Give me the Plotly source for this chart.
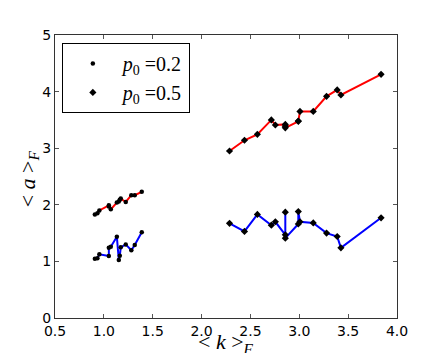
import plotly.graph_objects as go

# Left cluster (p0 = 0.2)
x_left = [0.908, 0.934, 0.954, 1.051, 1.051, 1.071, 1.133, 1.153, 1.163, 1.173, 1.224, 1.281, 1.316, 1.388]
red_left = [1.83, 1.85, 1.90, 1.99, 1.97, 1.92, 2.04, 2.06, 2.09, 2.11, 2.05, 2.17, 2.17, 2.23]
blue_left = [1.048, 1.055, 1.125, 1.095, 1.242, 1.26, 1.436, 1.025, 1.10, 1.249, 1.30, 1.196, 1.29, 1.514]

# Right cluster (p0 = 0.5)
x_right = [2.286, 2.439, 2.571, 2.714, 2.755, 2.857, 2.857, 2.857, 2.99, 2.99, 3.007, 3.143, 3.279, 3.388, 3.426, 3.837]
red_right = [2.95, 3.14, 3.245, 3.50, 3.41, 3.42, 3.39, 3.36, 3.475, 3.48, 3.65, 3.65, 3.917, 4.03, 3.94, 4.305]
blue_right = [1.673, 1.53, 1.83, 1.64, 1.70, 1.47, 1.87, 1.41, 1.66, 1.88, 1.70, 1.68, 1.50, 1.44, 1.24, 1.77]

legend_labels = ["<i>p</i><sub>0</sub> =0.2", "<i>p</i><sub>0</sub> =0.5"]
x_title = "&lt; <i>k</i> &gt;<sub><i>F</i></sub>"
y_title = "&lt; <i>a</i> &gt;<sub><i>F</i></sub>"

fig = go.Figure()

for xs, ys, col in [(x_left, red_left, "red"), (x_left, blue_left, "blue"),
                    (x_right, red_right, "red"), (x_right, blue_right, "blue")]:
    fig.add_trace(go.Scatter(x=xs, y=ys, mode="lines", line=dict(color=col, width=2),
                             showlegend=False, hoverinfo="skip"))

fig.add_trace(go.Scatter(x=x_left + x_left, y=red_left + blue_left, mode="markers",
                         marker=dict(color="black", size=4.5, symbol="circle"),
                         name=legend_labels[0]))
fig.add_trace(go.Scatter(x=x_right + x_right, y=red_right + blue_right, mode="markers",
                         marker=dict(color="black", size=5.5, symbol="diamond"),
                         name=legend_labels[1]))

axis_common = dict(showgrid=False, zeroline=False, ticks="inside", ticklen=4,
                   tickcolor="#555", showline=True, linecolor="#333", linewidth=1,
                   mirror="allticks", automargin=False,
                   tickfont=dict(family="DejaVu Sans", size=14, color="black"))

title_font = dict(family="Liberation Serif", size=22, color="black")

fig.update_layout(
    width=434, height=345,
    margin=dict(l=47, r=45, t=27, b=35),
    paper_bgcolor="white", plot_bgcolor="white",
    xaxis=dict(range=[0.5, 4.0], tickvals=[0.5, 1.0, 1.5, 2.0, 2.5, 3.0, 3.5, 4.0],
               ticktext=["0.5", "1.0", "1.5", "2.0", "2.5", "3.0", "3.5", "4.0"],
               **axis_common),
    yaxis=dict(range=[0, 5], tickvals=[0, 1, 2, 3, 4, 5], **axis_common),
    legend=dict(x=0.02, y=0.972, xanchor="left", yanchor="top",
                bordercolor="black", borderwidth=1, bgcolor="white",
                font=dict(family="Liberation Serif", size=20, color="black"),
                itemwidth=50, tracegroupgap=4),
    annotations=[
        dict(text=x_title, xref="paper", yref="paper", x=0.5, y=0, xanchor="center",
             yanchor="middle", yshift=-25, showarrow=False, font=title_font),
        dict(text=y_title, xref="paper", yref="paper", x=0, y=0.49, xanchor="center",
             yanchor="middle", xshift=-26, textangle=-90, showarrow=False, font=title_font),
    ],
)

fig.write_html("out.html")
